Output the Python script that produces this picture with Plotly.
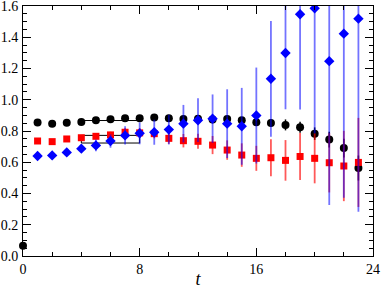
import plotly.graph_objects as go

# ---- data ----
t_black = list(range(0, 24))
black = [0.066, 0.854, 0.847, 0.853, 0.858, 0.869, 0.875, 0.881, 0.881, 0.886, 0.881, 0.877,
         0.878, 0.873, 0.877, 0.869, 0.856, 0.852, 0.839, 0.824, 0.783, 0.745, 0.691, 0.563]
black_err = [0.005, 0.005, 0.005, 0.005, 0.006, 0.006, 0.007, 0.007, 0.008, 0.008, 0.009, 0.01,
             0.011, 0.012, 0.014, 0.016, 0.018, 0.024, 0.035, 0.035, 0.04, 0.05, 0.06, 0.08]

t_red = list(range(1, 24))
red = [0.736, 0.732, 0.749, 0.757, 0.766, 0.775, 0.792, 0.788, 0.783, 0.753, 0.738,
       0.734, 0.710, 0.678, 0.646, 0.625, 0.629, 0.612, 0.637, 0.625, 0.597, 0.576, 0.599]
red_err = [0.005, 0.006, 0.008, 0.01, 0.015, 0.02, 0.025, 0.03, 0.03, 0.035, 0.043,
           0.048, 0.058, 0.062, 0.075, 0.08, 0.118, 0.13, 0.15, 0.16, 0.19, 0.225, 0.285]

t_blue = list(range(1, 24))
blue = [0.640, 0.644, 0.663, 0.687, 0.708, 0.736, 0.772, 0.785, 0.792, 0.809, 0.847,
        0.869, 0.879, 0.847, 0.830, 0.899, 1.134, 1.299, 1.547, 1.585, 1.247, 1.423, 1.519]
blue_err = [0.005, 0.007, 0.01, 0.02, 0.037, 0.043, 0.059, 0.07, 0.08, 0.095, 0.12,
            0.14, 0.155, 0.22, 0.246, 0.307, 0.37, 0.36, 0.61, 0.80, 0.92, 1.05, 1.235]

fit_t = [4, 8]
black_fit = 0.867
box_lo = 0.723
box_hi = 0.772

x_ticks = [0, 8, 16, 24]
y_ticks = [0.0, 0.2, 0.4, 0.6, 0.8, 1.0, 1.2, 1.4, 1.6]

SERIF = "'Liberation Serif', 'DejaVu Serif', serif"

fig = go.Figure()

# fit lines / box
fig.add_trace(go.Scatter(x=fit_t, y=[black_fit, black_fit], mode="lines",
                         line=dict(color="black", width=1), hoverinfo="skip"))
fig.add_trace(go.Scatter(x=[fit_t[0], fit_t[1], fit_t[1], fit_t[0], fit_t[0]],
                         y=[box_hi, box_hi, box_lo, box_lo, box_hi], mode="lines",
                         line=dict(color="black", width=1), hoverinfo="skip"))

fig.add_trace(go.Scatter(
    x=t_black, y=black, mode="markers", cliponaxis=False,
    marker=dict(symbol="circle", size=8, color="black"),
    error_y=dict(type="data", array=black_err, width=0, thickness=1.5, color="black")))

fig.add_trace(go.Scatter(
    x=t_red, y=red, mode="markers",
    marker=dict(symbol="square", size=7, color="#ff0000"),
    error_y=dict(type="data", array=red_err, width=0, thickness=1.8, color="rgba(255,0,0,0.65)")))

fig.add_trace(go.Scatter(
    x=t_blue, y=blue, mode="markers",
    marker=dict(symbol="diamond", size=8, color="#0000ff"),
    error_y=dict(type="data", array=blue_err, width=0, thickness=1.8, color="rgba(0,0,255,0.55)")))

axis_common = dict(
    showgrid=False, zeroline=False, showline=True, linecolor="black", linewidth=1,
    mirror="allticks", ticks="inside", tickcolor="black", tickwidth=1, ticklen=8,
    tickfont=dict(family=SERIF, size=14, color="black"), automargin=False,
    ticklabeloverflow="allow",
)

fig.update_xaxes(range=[0, 24], tickvals=x_ticks, ticktext=[str(v) for v in x_ticks],
                 minor=dict(dtick=2, ticks="inside", ticklen=4, tickcolor="black", tickwidth=1),
                 title=dict(text="<i>t</i>", font=dict(family=SERIF, size=18, color="black"),
                            standoff=2),
                 **axis_common)
fig.update_yaxes(range=[0, 1.6], tickvals=y_ticks, ticktext=[f"{v:.1f}" for v in y_ticks],
                 minor=dict(dtick=0.05, ticks="inside", ticklen=4, tickcolor="black", tickwidth=1),
                 ticklabelstandoff=1,
                 **axis_common)

fig.update_layout(width=382, height=289, margin=dict(l=23, r=9, t=6, b=33),
                  font=dict(family=SERIF),
                  paper_bgcolor="white", plot_bgcolor="white", showlegend=False)

fig.write_html("out.html", config={"displayModeBar": False, "staticPlot": True},
               post_script="document.body.style.margin='0';document.body.style.overflow='hidden';")
